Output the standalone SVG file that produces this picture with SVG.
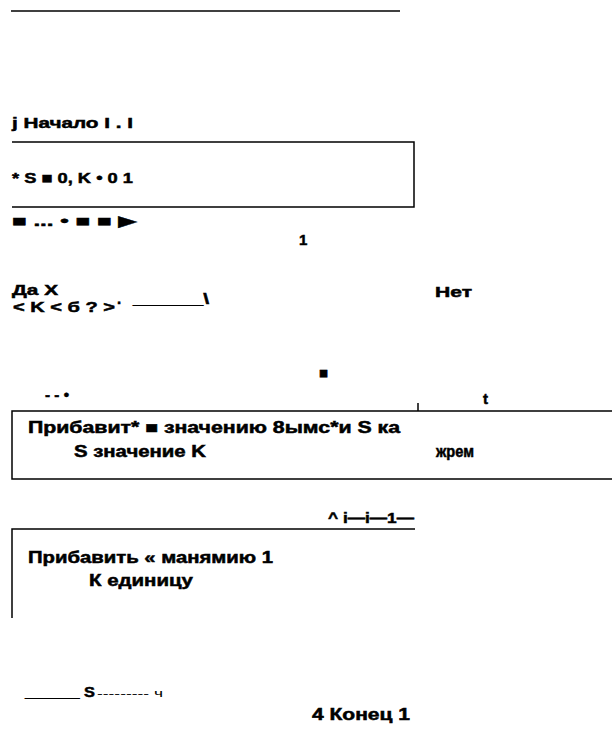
<svg xmlns="http://www.w3.org/2000/svg" width="612" height="735" viewBox="0 0 612 735">
  <style>
    .t { font-family: "Liberation Sans", "DejaVu Sans", sans-serif; font-weight: bold; font-size: 15px; fill: #000; stroke: #000; stroke-width: 0.5; }
    .big { font-size: 16px; }
    .thin { font-family: "Liberation Sans", "DejaVu Sans", sans-serif; font-size: 11px; fill: #000; }
    .ln { stroke: #000; stroke-width: 1.5; fill: none; }
  </style>
  <rect width="612" height="735" fill="#fff"/>

  <!-- connectors and rule lines -->
  <g id="connectors">
    <line class="ln" x1="11" y1="11" x2="400" y2="11" stroke-width="1"/>
    <line class="ln" x1="418" y1="403" x2="418" y2="411" stroke-width="1"/>
  </g>

  <g id="start">
    <text class="t" x="12" y="128" textLength="121" lengthAdjust="spacingAndGlyphs">j Начало I . I</text>
  </g>

  <g id="init">
    <path class="ln" d="M12 142 H414 V207 H12"/>
    <text class="t" x="12" y="183" textLength="121" lengthAdjust="spacingAndGlyphs">* S ■ 0, K • 0 1</text>
    <text class="t" x="12" y="226" textLength="125" lengthAdjust="spacingAndGlyphs">■ ... • ■ ■ ▶</text>
    <text class="t" x="299" y="245">1</text>
  </g>

  <g id="cond">
    <text class="t" x="12" y="295" textLength="46" lengthAdjust="spacingAndGlyphs">Да X</text>
    <text class="t" x="13" y="312" textLength="102" lengthAdjust="spacingAndGlyphs">&lt; K &lt; б ? &gt;</text>
    <text class="t" x="117" y="304">.</text>
    <text class="t" x="133" y="304" textLength="76" lengthAdjust="spacingAndGlyphs">______\</text>
    <text class="t" x="435" y="297" textLength="37" lengthAdjust="spacingAndGlyphs">Нет</text>
    <text class="t" x="319" y="378">■</text>
  </g>

  <g id="add-s">
    <text class="t" x="45" y="400" textLength="24" lengthAdjust="spacingAndGlyphs">- - •</text>
    <text class="t" x="483" y="404">t</text>
    <path class="ln" d="M612 411 H12 V479 H612"/>
    <text class="t big" x="28" y="433" textLength="372" lengthAdjust="spacingAndGlyphs">Прибавит* ■ значению 8ымс*и S ка</text>
    <text class="t big" x="74" y="457" textLength="132" lengthAdjust="spacingAndGlyphs">S значение K</text>
    <text class="t big" x="436" y="457" textLength="38" lengthAdjust="spacingAndGlyphs">жрем</text>
  </g>

  <g id="add-k">
    <text class="t" x="328" y="523" textLength="86" lengthAdjust="spacingAndGlyphs">^ i—i—1—</text>
    <path class="ln" d="M415 529 H12 V618"/>
    <text class="t big" x="28" y="563" textLength="245" lengthAdjust="spacingAndGlyphs">Прибавить « манямию 1</text>
    <text class="t big" x="89" y="586" textLength="104" lengthAdjust="spacingAndGlyphs">К единицу</text>
  </g>

  <g id="end">
    <text class="t" x="25" y="697" textLength="70" lengthAdjust="spacingAndGlyphs">______ S</text>
    <text class="thin" x="97" y="697" textLength="66" lengthAdjust="spacingAndGlyphs">--------- ч</text>
    <text class="t big" x="312" y="720" textLength="98" lengthAdjust="spacingAndGlyphs">4 Конец 1</text>
  </g>
</svg>
